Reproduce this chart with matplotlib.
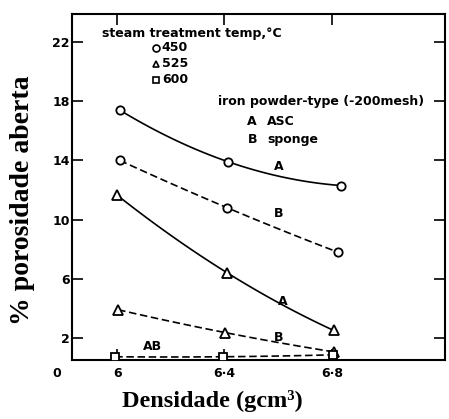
import numpy as np
import matplotlib
matplotlib.use("Agg")
import matplotlib.pyplot as plt

# densidade (g/cm3) e porosidade aberta (%) para cada serie
x_450_A = [6.01, 6.415, 6.834]
y_450_A = [17.4, 13.9, 12.3]
x_450_B = [6.01, 6.41, 6.822]
y_450_B = [14.0, 10.8, 7.8]
x_525_A = [6.0, 6.41, 6.807]
y_525_A = [11.65, 6.4, 2.5]
x_525_B = [6.004, 6.404, 6.807]
y_525_B = [3.9, 2.35, 1.05]
x_600_AB = [5.993, 6.396, 6.804]
y_600_AB = [0.72, 0.72, 0.85]

xticks = [6.0, 6.4, 6.8]
xticklabels = ["6", "6·4", "6·8"]
yticks = [2, 6, 10, 14, 18, 22]
temps = ["450", "525", "600"]
temp_markers = ["o", "^", "s"]

bold = dict(fontweight="bold", family="DejaVu Sans")

fig = plt.figure(figsize=(4.49, 4.19), dpi=100)
ax = fig.add_axes([72 / 449, 59 / 419, 373 / 449, 346 / 419])


def curva(x, y, marker, ls):
    # curva suave de 2o grau passando pelos tres pontos
    c = np.polyfit(x, y, 2)
    xs = np.linspace(x[0], x[-1], 100)
    ax.plot(xs, np.polyval(c, xs), color="black", lw=1.2, ls=ls,
            dashes=(4.5, 2.2) if ls == "--" else (None, None), zorder=2)
    ax.plot(x, y, ls="none", marker=marker, ms=6 if marker != "^" else 6.5,
            mfc="white", mec="black", mew=1.3, zorder=3)


curva(x_450_A, y_450_A, "o", "-")
curva(x_450_B, y_450_B, "o", "--")
curva(x_525_A, y_525_A, "^", "-")
curva(x_525_B, y_525_B, "^", "--")
curva(x_600_AB, y_600_AB, "s", "--")

# rotulos das curvas
ax.text(6.602, 13.6, "A", ha="center", va="center", fontsize=9, **bold)
ax.text(6.602, 10.4, "B", ha="center", va="center", fontsize=9, **bold)
ax.text(6.617, 4.45, "A", ha="center", va="center", fontsize=9, **bold)
ax.text(6.602, 2.0, "B", ha="center", va="center", fontsize=9, **bold)
ax.text(6.131, 1.4, "AB", ha="center", va="center", fontsize=9, **bold)

ax.set_xlim(5.832, 7.222)
ax.set_ylim(0.5, 23.9)
ax.set_xticks(xticks)
ax.set_xticklabels(xticklabels)
ax.set_yticks(yticks)
ax.set_yticklabels([str(v) for v in yticks])
ax.tick_params(direction="in", length=8, width=1.2, top=True, right=True,
               labelsize=9)
ax.tick_params(axis="x", pad=5)
ax.tick_params(axis="y", pad=1.5)
for lab in ax.get_xticklabels() + ax.get_yticklabels():
    lab.set_fontweight("bold")
for s in ax.spines.values():
    s.set_linewidth(1.5)

ax.text(-0.040, -0.038, "0", transform=ax.transAxes, ha="center",
        va="center", fontsize=9, **bold)

# legenda: temperatura do tratamento a vapor
ax.text(0.080, 0.945, "steam treatment temp,°C", transform=ax.transAxes,
        ha="left", va="center", fontsize=9, **bold)
for i, (t, m) in enumerate(zip(temps, temp_markers)):
    yy = 0.902 - i * 0.046
    ax.plot([0.226], [yy], transform=ax.transAxes, marker=m, ms=5,
            mfc="white", mec="black", mew=1.2, ls="none", clip_on=False)
    ax.text(0.241, yy, t, transform=ax.transAxes, ha="left", va="center",
            fontsize=9, **bold)

# legenda: tipo de po de ferro
ax.text(0.391, 0.746, "iron powder-type (-200mesh)", transform=ax.transAxes,
        ha="left", va="center", fontsize=9, **bold)
ax.text(0.483, 0.688, "A", transform=ax.transAxes, ha="center", va="center",
        fontsize=9, **bold)
ax.text(0.523, 0.688, "ASC", transform=ax.transAxes, ha="left", va="center",
        fontsize=9, **bold)
ax.text(0.483, 0.636, "B", transform=ax.transAxes, ha="center", va="center",
        fontsize=9, **bold)
ax.text(0.523, 0.636, "sponge", transform=ax.transAxes, ha="left",
        va="center", fontsize=9, **bold)

ax.set_xlabel("Densidade (gcm³)", family="Liberation Serif",
              fontweight="bold", fontsize=17.5, va="center")
ax.xaxis.set_label_coords(0.375, -0.118)
ax.set_ylabel("% porosidade aberta", family="Liberation Serif",
              fontweight="bold", fontsize=20, va="center")
ax.yaxis.set_label_coords(-0.132, 0.462)

fig.savefig("out.png", dpi=100)
